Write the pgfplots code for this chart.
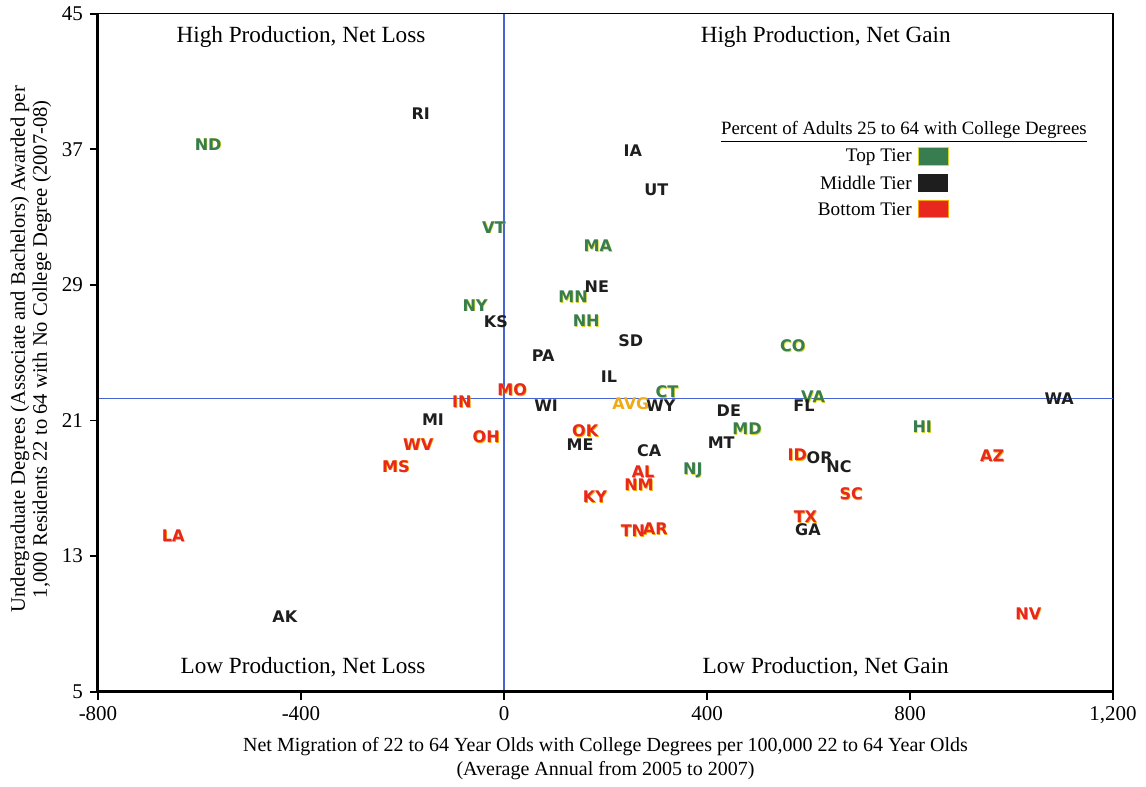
\documentclass[border=0pt]{standalone}
\usepackage{fontspec}
\setmainfont{Liberation Serif}
\newfontfamily\labfont{DejaVu Sans}
\usepackage{pgfplots}
\pgfplotsset{compat=1.18}
\usepackage{pgfplotstable}

\definecolor{topgreen}{RGB}{55,125,80}
\definecolor{midblack}{RGB}{30,30,30}
\definecolor{botred}{RGB}{232,40,30}
\definecolor{avgorange}{RGB}{240,170,20}
\definecolor{shadowyellow}{RGB}{215,215,40}
\definecolor{shadoworange}{RGB}{250,165,0}
\definecolor{refblue}{RGB}{70,100,210}

\pgfplotstableread{
x y label
-583 37.3 ND
-20 32.4 VT
-57 27.8 NY
185 31.3 MA
136 28.3 MN
162 26.9 NH
569 25.4 CO
321 22.7 CT
609 22.4 VA
479 20.5 MD
824 20.65 HI
372 18.05 NJ
}\toptier

\pgfplotstableread{
x y label
-164 39.1 RI
-16 26.8 KS
254 36.9 IA
300 34.6 UT
183 28.9 NE
250 25.7 SD
77 24.8 PA
207 23.6 IL
83 21.9 WI
309 21.9 WY
443 21.6 DE
591 21.9 FL
1094 22.3 WA
-140 21.06 MI
150 19.6 ME
428 19.7 MT
286 19.2 CA
622 18.8 OR
660 18.3 NC
599 14.55 GA
-432 9.4 AK
}\midtier

\pgfplotstableread{
x y label
16 22.8 MO
-83 22.1 IN
160 20.4 OK
-35 20.06 OH
-169 19.6 WV
-213 18.3 MS
578 19.0 ID
962 18.9 AZ
274 18.0 AL
266 17.2 NM
179 16.5 KY
684 16.7 SC
594 15.3 TX
254 14.5 TN
298 14.6 AR
-652 14.2 LA
1033 9.6 NV
}\bottier

\pgfplotstableread{
x y label
250 22.0 AVG
}\avgtable

\pgfplotsset{
  statelabels/.style={only marks, mark=*, mark size=0pt,
    mark options={draw=none, fill=none},
    nodes near coords, point meta=explicit symbolic,
    every node near coord/.style={anchor=center, inner sep=0pt,
      font=\labfont\bfseries\fontsize{8}{9}\selectfont, text=#1}},
  shadowlabels/.style={statelabels=#1,
    every node near coord/.append style={xshift=0.35pt, yshift=-0.45pt}},
}

\begin{document}
\begin{tikzpicture}
\begin{axis}[
  scale only axis,
  width=507.5pt, height=339pt,
  xmin=-800, xmax=1200, ymin=5, ymax=45,
  xtick={-800,-400,0,400,800,1200},
  ytick={5,13,21,29,37,45},
  tick align=outside,
  xtick pos=lower, ytick pos=left,
  major tick length=4pt,
  tick style={line width=0.9pt, black},
  axis line style={line width=0.6pt},
  /pgf/number format/assume math mode=true,
  /pgf/number format/1000 sep={,},
  ticklabel style={font=\fontsize{10.5}{12}\selectfont},
  xlabel={Net Migration of 22 to 64 Year Olds with College Degrees per 100,000 22 to 64 Year Olds\\(Average Annual from 2005 to 2007)},
  xlabel style={align=center, font=\fontsize{10}{12}\selectfont,
    at={(axis description cs:0.5,-0.0988)}, anchor=center},
  ylabel={Undergraduate Degrees (Associate and Bachelors) Awarded per\\1,000 Residents 22 to 64 with No College Degree (2007-08)},
  ylabel style={align=center, font=\fontsize{10.3}{11}\selectfont,
    at={(axis description cs:-0.066,0.505)}, anchor=center},
  clip=false,
]
% reference lines
\addplot[refblue, line width=0.6pt] coordinates {(0,5) (0,45)};
\addplot[refblue, line width=0.6pt] coordinates {(-800,22.3) (1200,22.3)};
% thick left and bottom spines
\draw[line width=1.5pt, black] (rel axis cs:0,1) -- (rel axis cs:0,0) -- (rel axis cs:1,0);

% shadows
\addplot[shadowlabels=shadowyellow] table[x=x, y=y, meta=label] {\toptier};
\addplot[shadowlabels=shadoworange] table[x=x, y=y, meta=label] {\bottier};
% labels
\addplot[statelabels=topgreen] table[x=x, y=y, meta=label] {\toptier};
\addplot[statelabels=midblack] table[x=x, y=y, meta=label] {\midtier};
\addplot[statelabels=botred] table[x=x, y=y, meta=label] {\bottier};
\addplot[statelabels=avgorange] table[x=x, y=y, meta=label] {\avgtable};

% quadrant labels
\node[font=\fontsize{11.6}{13}\selectfont] at (axis cs:-400,43.6) {High Production, Net Loss};
\node[font=\fontsize{11.6}{13}\selectfont] at (axis cs:634,43.6) {High Production, Net Gain};
\node[font=\fontsize{11.6}{13}\selectfont] at (axis cs:-396,6.43) {Low Production, Net Loss};
\node[font=\fontsize{11.6}{13}\selectfont] at (axis cs:634,6.43) {Low Production, Net Gain};

% legend
\node[font=\fontsize{9.4}{11}\selectfont, inner sep=0pt] at (axis cs:788,38.05) {\underline{Percent of Adults 25 to 64 with College Degrees}};
\node[font=\fontsize{9.6}{11}\selectfont, anchor=east, inner sep=0pt] at (axis cs:804,36.55) {Top Tier};
\node[font=\fontsize{9.6}{11}\selectfont, anchor=east, inner sep=0pt] at (axis cs:804,35.02) {Middle Tier};
\node[font=\fontsize{9.6}{11}\selectfont, anchor=east, inner sep=0pt] at (axis cs:804,33.48) {Bottom Tier};
\fill[topgreen, draw=shadowyellow, line width=0.5pt] (axis cs:816,36.05) rectangle (axis cs:875,37.1);
\fill[midblack] (axis cs:816,34.5) rectangle (axis cs:875,35.55);
\fill[botred, draw=shadoworange, line width=0.5pt] (axis cs:816,32.95) rectangle (axis cs:875,34.0);
\end{axis}
\path ([xshift=-49pt,yshift=-46.5pt]current axis.south west) rectangle ([xshift=16.5pt,yshift=6pt]current axis.north east);
\end{tikzpicture}
\end{document}
